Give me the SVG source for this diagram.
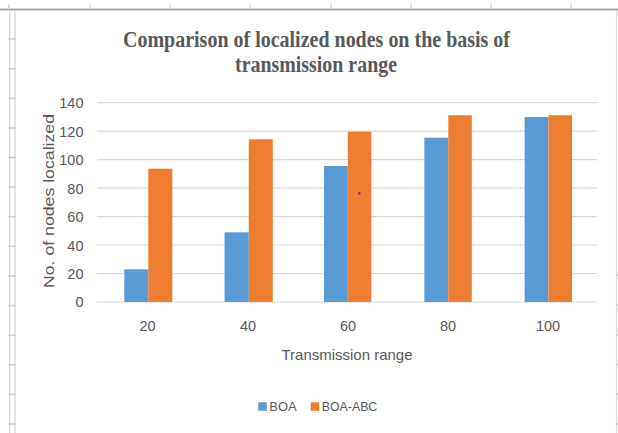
<svg xmlns="http://www.w3.org/2000/svg" width="618" height="433" viewBox="0 0 618 433">
  <style>
    .sheet { stroke: #D6D6D6; stroke-width: 1.2; fill: none; }
    .tick { stroke: #CFCFCF; stroke-width: 1.5; }
    .grid { stroke: #D9D9D9; stroke-width: 1.2; }
    .boa { fill: #5B9BD5; }
    .abc { fill: #ED7D31; }
    .lbl { font-family: "Liberation Sans", Arial, sans-serif; fill: #595959; }
    .title { font-family: "Liberation Serif", "Times New Roman", serif; font-weight: bold; fill: #595959; font-size: 23px; }
  </style>
  <rect width="618" height="433" fill="#FFFFFF"/>

  <!-- spreadsheet frame -->
  <g id="sheet">
    <line x1="0" y1="9.5" x2="618" y2="9.5" stroke="#A8A8A8" stroke-width="1.8"/>
    <g class="tick">
      <line x1="9" y1="4.5" x2="9" y2="9"/>
      <line x1="90" y1="4.5" x2="90" y2="9"/>
      <line x1="170" y1="4.5" x2="170" y2="9"/>
      <line x1="250" y1="4.5" x2="250" y2="9"/>
      <line x1="331" y1="4.5" x2="331" y2="9"/>
      <line x1="411" y1="4.5" x2="411" y2="9"/>
      <line x1="491" y1="4.5" x2="491" y2="9"/>
      <line x1="571" y1="4.5" x2="571" y2="9"/>
    </g>
    <line class="sheet" x1="9.7" y1="11" x2="9.7" y2="433"/>
    <line class="sheet" x1="15" y1="11" x2="15" y2="433"/>
    <line class="sheet" x1="616.5" y1="11" x2="616.5" y2="433"/>
    <g class="tick">
      <line x1="8" y1="39" x2="15.5" y2="39"/>
      <line x1="8" y1="68.7" x2="15.5" y2="68.7"/>
      <line x1="8" y1="98.3" x2="15.5" y2="98.3"/>
      <line x1="8" y1="128" x2="15.5" y2="128"/>
      <line x1="8" y1="157.5" x2="15.5" y2="157.5"/>
      <line x1="8" y1="187" x2="15.5" y2="187"/>
      <line x1="8" y1="216.7" x2="15.5" y2="216.7"/>
      <line x1="8" y1="246.3" x2="15.5" y2="246.3"/>
      <line x1="8" y1="276" x2="15.5" y2="276"/>
      <line x1="8" y1="305.6" x2="15.5" y2="305.6"/>
      <line x1="8" y1="335.2" x2="15.5" y2="335.2"/>
      <line x1="8" y1="364.8" x2="15.5" y2="364.8"/>
      <line x1="8" y1="394.4" x2="15.5" y2="394.4"/>
      <line x1="8" y1="424" x2="15.5" y2="424"/>
      <line x1="616" y1="275" x2="618" y2="275"/>
      <line x1="616" y1="305" x2="618" y2="305"/>
      <line x1="616" y1="335" x2="618" y2="335"/>
      <line x1="616" y1="364.5" x2="618" y2="364.5"/>
      <line x1="616" y1="394" x2="618" y2="394"/>
      <line x1="616" y1="424" x2="618" y2="424"/>
    </g>
  </g>

  <!-- title -->
  <g id="title">
    <text class="title" x="316.5" y="46.5" text-anchor="middle" textLength="387" lengthAdjust="spacingAndGlyphs">Comparison of localized nodes on the basis of</text>
    <text class="title" x="316" y="72" text-anchor="middle" textLength="162" lengthAdjust="spacingAndGlyphs">transmission range</text>
  </g>

  <!-- gridlines -->
  <g id="gridlines">
    <line class="grid" x1="97" y1="102.6" x2="597" y2="102.6"/>
    <line class="grid" x1="97" y1="131.1" x2="597" y2="131.1"/>
    <line class="grid" x1="97" y1="159.6" x2="597" y2="159.6"/>
    <line class="grid" x1="97" y1="188.1" x2="597" y2="188.1"/>
    <line class="grid" x1="97" y1="216.6" x2="597" y2="216.6"/>
    <line class="grid" x1="97" y1="245" x2="597" y2="245"/>
    <line class="grid" x1="97" y1="273.5" x2="597" y2="273.5"/>
    <line class="grid" x1="97" y1="302" x2="597" y2="302"/>
  </g>

  <!-- y tick labels -->
  <g id="y-axis" class="lbl" font-size="14.5" text-anchor="end">
    <text x="83.5" y="108">140</text>
    <text x="83.5" y="136.5">120</text>
    <text x="83.5" y="165">100</text>
    <text x="83.5" y="193.5">80</text>
    <text x="83.5" y="222">60</text>
    <text x="83.5" y="250.5">40</text>
    <text x="83.5" y="279">20</text>
    <text x="83.5" y="307.3">0</text>
  </g>
  <text id="y-title" class="lbl" font-size="15.5" text-anchor="middle" transform="translate(53.5,201) rotate(-90)" textLength="174" lengthAdjust="spacingAndGlyphs">No. of nodes localized</text>

  <!-- bars -->
  <g id="bars">
    <g id="g20">
      <rect class="boa" x="124.3" y="269.3" width="24" height="32.7"/>
      <rect class="abc" x="148.3" y="168.7" width="24" height="133.3"/>
    </g>
    <g id="g40">
      <rect class="boa" x="224.5" y="232.3" width="24.3" height="69.7"/>
      <rect class="abc" x="248.8" y="139.3" width="24" height="162.7"/>
    </g>
    <g id="g60">
      <rect class="boa" x="324" y="166" width="23.8" height="136"/>
      <rect class="abc" x="347.8" y="131.7" width="23.6" height="170.3"/>
    </g>
    <g id="g80">
      <rect class="boa" x="424.3" y="137.7" width="24" height="164.3"/>
      <rect class="abc" x="448.3" y="115.3" width="23.5" height="186.7"/>
    </g>
    <g id="g100">
      <rect class="boa" x="524.6" y="117" width="23.8" height="185"/>
      <rect class="abc" x="548.4" y="115.3" width="23.7" height="186.7"/>
    </g>
  </g>
  <circle cx="359.3" cy="193.3" r="1.3" fill="#6A2C9A"/>

  <!-- x labels -->
  <g id="x-axis" class="lbl" font-size="14.5" text-anchor="middle">
    <text x="147.5" y="330.5">20</text>
    <text x="248" y="330.5">40</text>
    <text x="348" y="330.5">60</text>
    <text x="448" y="330.5">80</text>
    <text x="548" y="330.5">100</text>
  </g>
  <text id="x-title" class="lbl" font-size="15" x="347" y="360" text-anchor="middle" textLength="131" lengthAdjust="spacingAndGlyphs">Transmission range</text>

  <!-- legend -->
  <g id="legend" class="lbl" font-size="13">
    <rect class="boa" x="258.3" y="402.3" width="8.5" height="8.5"/>
    <text x="269.3" y="411" textLength="27.4" lengthAdjust="spacingAndGlyphs">BOA</text>
    <rect class="abc" x="310.7" y="402.3" width="8.5" height="8.5"/>
    <text x="321.7" y="411" textLength="55.6" lengthAdjust="spacingAndGlyphs">BOA-ABC</text>
  </g>
</svg>
